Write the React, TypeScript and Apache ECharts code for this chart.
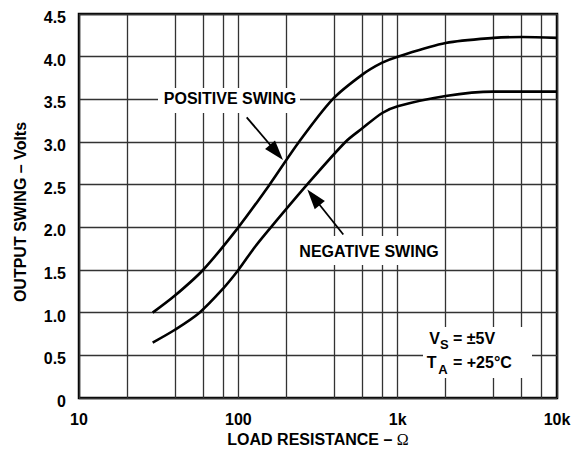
import React, { useEffect, useRef } from 'react';
import * as echarts from 'echarts';

// Tick labels
const xTickValues = [10, 100, 1000, 10000];
const xTickLabels = ['10', '100', '1k', '10k'];
const yTickLabels = ['0', '0.5', '1.0', '1.5', '2.0', '2.5', '3.0', '3.5', '4.0', '4.5'];
const xMinorGrid = [20, 40, 60, 80, 200, 400, 600, 800, 2000, 4000, 6000, 8000];

// Positive swing (Volts) vs load resistance (Ohm)
const posR = [29, 40, 60, 100, 157, 240, 390, 600, 800, 1000, 2000, 4000, 6000, 10000];
const posV = [1.0, 1.2, 1.5, 2.0, 2.5, 3.0, 3.5, 3.79, 3.93, 4.0, 4.16, 4.22, 4.23, 4.22];

// Negative swing (Volts) vs load resistance (Ohm)
const negR = [29, 40, 57, 80, 100, 127, 160, 270, 470, 600, 800, 1000, 2000, 4000, 10000];
const negV = [0.65, 0.8, 1.0, 1.28, 1.5, 1.77, 2.0, 2.5, 3.0, 3.16, 3.34, 3.42, 3.54, 3.59, 3.59];

const FONT = '"Liberation Sans", Arial, Helvetica, sans-serif';

function arrow(sx: number, sy: number, tx: number, ty: number, len = 20, hw = 6.5) {
  const dx = tx - sx;
  const dy = ty - sy;
  const d = Math.hypot(dx, dy);
  const ux = dx / d;
  const uy = dy / d;
  const bx = tx - ux * len;
  const by = ty - uy * len;
  const nx = -uy;
  const ny = ux;
  return [
    {
      type: 'line',
      z: 120,
      shape: { x1: sx, y1: sy, x2: bx + ux * 2, y2: by + uy * 2 },
      style: { stroke: '#000', lineWidth: 1.8 },
    },
    {
      type: 'polygon',
      z: 120,
      shape: {
        points: [
          [tx, ty],
          [bx + nx * hw, by + ny * hw],
          [bx - nx * hw, by - ny * hw],
        ],
      },
      style: { fill: '#000' },
    },
  ];
}

function txt(text: string, x: number, y: number, size = 16, align = 'center') {
  return {
    type: 'text',
    z: 130,
    style: {
      text,
      x,
      y,
      fill: '#000',
      font: `bold ${size}px ${FONT}`,
      align,
      verticalAlign: 'middle',
      textAlign: align,
      textVerticalAlign: 'middle',
    },
  };
}

function box(x: number, y: number, w: number, h: number) {
  return {
    type: 'rect',
    z: 110,
    shape: { x, y, width: w, height: h },
    style: { fill: '#fff' },
  };
}

export default function App() {
  const ref = useRef<HTMLDivElement>(null);
  useEffect(() => {
    document.body.style.margin = '0';
    const chart = echarts.init(ref.current!, null, { renderer: 'svg' });
    const gridColor = '#333';
    const labelStyle = { fontFamily: FONT, fontWeight: 'bold', fontSize: 16, color: '#000' };
    const option: any = {
      animation: false,
      backgroundColor: '#fff',
      grid: {
        left: 79,
        right: 23,
        top: 14,
        bottom: 60,
        show: true,
        borderColor: '#000',
        borderWidth: 2.5,
        backgroundColor: 'transparent',
        outerBoundsMode: 'none',
        containLabel: false,
      },
      xAxis: {
        type: 'log',
        logBase: 10,
        min: 10,
        max: 10000,
        name: 'LOAD RESISTANCE – {o|Ω}',
        nameLocation: 'middle',
        nameGap: 32,
        nameTextStyle: {
          ...labelStyle,
          rich: {
            o: { fontFamily: '"Liberation Serif", "Times New Roman", serif', fontWeight: 'normal', fontSize: 16, color: '#000' },
          },
        },
        axisLine: { show: false },
        axisTick: { show: false },
        axisLabel: {
          margin: 13,
          ...labelStyle,
          formatter: (v: number) => {
            let best = 0;
            for (let i = 0; i < xTickValues.length; i++) {
              if (Math.abs(Math.log10(v) - Math.log10(xTickValues[i])) < Math.abs(Math.log10(v) - Math.log10(xTickValues[best]))) best = i;
            }
            return xTickLabels[best];
          },
        },
        splitLine: { show: true, lineStyle: { color: gridColor, width: 1.3 } },
        minorTick: { show: false },
        minorSplitLine: { show: false },
      },
      yAxis: {
        type: 'value',
        min: 0,
        max: 4.5,
        interval: 0.5,
        name: 'OUTPUT SWING – Volts',
        nameLocation: 'middle',
        nameGap: 51,
        nameTextStyle: {
          ...labelStyle,
          padding: [0, 12, 0, 0],
        },
        axisLine: { show: false },
        axisTick: { show: false },
        axisLabel: {
          margin: 13,
          ...labelStyle,
          formatter: (v: number) => `{a|${yTickLabels[Math.round(v / 0.5)] ?? ''}}`,
          rich: {
            a: { ...labelStyle, padding: [7, 0, 0, 0] },
          },
        },
        splitLine: { show: true, lineStyle: { color: gridColor, width: 1.3 } },
      },
      series: [
        {
          type: 'line',
          name: 'POSITIVE SWING',
          data: posR.map((r, i) => [r, posV[i]]),
          showSymbol: false,
          symbol: 'none',
          smooth: 0.3,
          z: 3,
          lineStyle: { color: '#000', width: 2.6 },
          markLine: {
            silent: true,
            symbol: 'none',
            z: 1,
            label: { show: false },
            lineStyle: { color: gridColor, width: 1.3, type: 'solid' },
            data: xMinorGrid.map((x) => ({ xAxis: x })),
          },
        },
        {
          type: 'line',
          name: 'NEGATIVE SWING',
          data: negR.map((r, i) => [r, negV[i]]),
          showSymbol: false,
          symbol: 'none',
          smooth: 0.3,
          z: 3,
          lineStyle: { color: '#000', width: 2.6 },
        },
      ],
      graphic: [
        box(158, 88, 142, 25),
        txt('POSITIVE SWING', 230, 98),
        box(296, 236, 146, 29),
        txt('NEGATIVE SWING', 369, 251),
        ...arrow(246.7, 117.3, 283, 160),
        ...arrow(343.3, 234.5, 307.3, 189.5),
        box(423, 327, 109, 51),
        txt('V', 429.3, 338, 16, 'left'),
        txt('S', 440, 344.5, 13, 'left'),
        txt(' = ±5V', 448.5, 338, 16, 'left'),
        txt('T', 426.7, 362.5, 16, 'left'),
        txt('A', 438.3, 369, 13, 'left'),
        txt(' = +25°C', 448.5, 362.5, 16, 'left'),
      ],
    };
    chart.setOption(option);
    return () => chart.dispose();
  }, []);
  return <div ref={ref} style={{ width: 580, height: 458, position: 'absolute', left: 0, top: 0 }} />;
}
